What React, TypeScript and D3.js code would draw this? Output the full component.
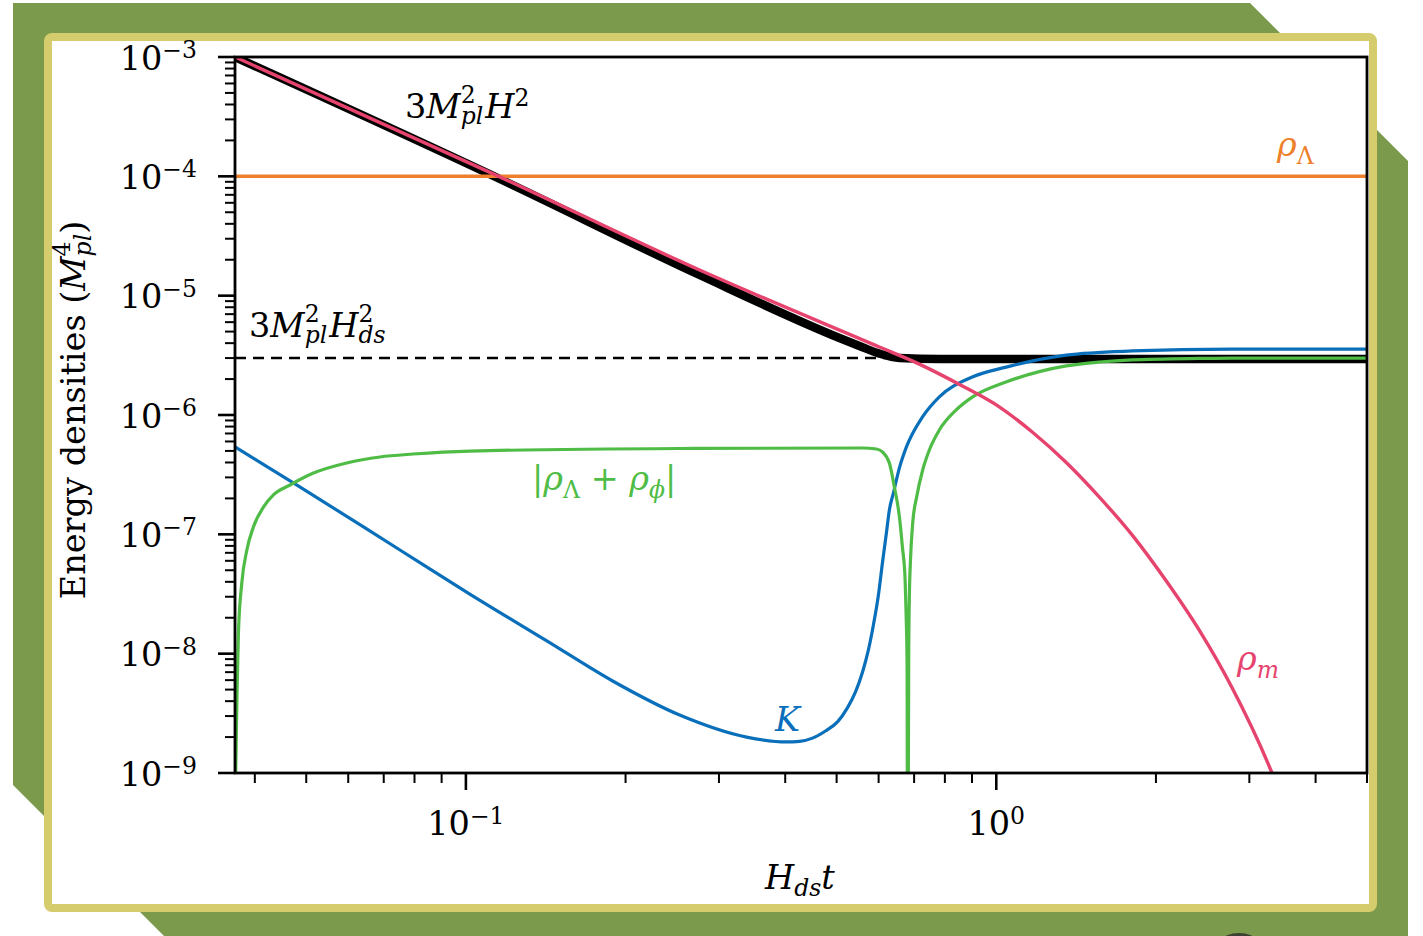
import React from "react";
import * as d3 from "d3";

const W = 1423;
const H = 936;

// axis ranges (H_ds t, energy density in M_pl^4)
const tDomain: [number, number] = [0.0367, 5];
const vDomain: [number, number] = [1e-9, 1e-3];
const yTickExps = [-3, -4, -5, -6, -7, -8, -9];
const xTickExps = [-1, 0];

// constant levels
const rhoLambda = 1e-4;
const hubbleDs = 3.0e-6;

// 3 M_pl^2 H^2
const hubble: [number, number][] = [
  [0.0367, 1.0e-3], [0.1159, 9.5e-5], [0.2758, 1.49e-5], [0.5062, 4.42e-6],
  [0.5521, 3.79e-6], [0.602, 3.27e-6], [0.657, 3.0e-6], [0.781, 2.94e-6],
  [1.013, 2.94e-6], [5.0, 2.95e-6],
];

// rho_m
const rhoM: [number, number][] = [
  [0.0367, 1.0e-3], [0.1159, 9.9e-5], [0.2758, 1.64e-5], [0.602, 3.71e-6],
  [0.716, 2.67e-6], [0.863, 1.75e-6], [1.013, 1.17e-6], [1.169, 7.2e-7],
  [1.355, 4.0e-7], [1.563, 2.06e-7], [1.803, 9.9e-8], [2.089, 4.1e-8],
  [2.412, 1.58e-8], [2.782, 5.2e-9], [3.31, 1.0e-9], [3.56, 4.3e-10],
];

// K
const kinetic: [number, number][] = [
  [0.0367, 5.4e-7], [0.0487, 2.49e-7], [0.0751, 7.39e-8], [0.1017, 3.16e-8],
  [0.1421, 1.28e-8], [0.1891, 5.9e-9], [0.2529, 3.06e-9], [0.3382, 2.0e-9],
  [0.4022, 1.82e-9], [0.4256, 1.84e-9], [0.4503, 1.96e-9], [0.4764, 2.25e-9],
  [0.5019, 2.68e-9], [0.524, 3.51e-9], [0.5427, 4.78e-9], [0.5596, 7.03e-9],
  [0.574, 1.075e-8], [0.5866, 1.74e-8], [0.5995, 3.1e-8], [0.61, 5.75e-8],
  [0.6207, 1.03e-7], [0.6287, 1.6e-7], [0.6398, 2.22e-7], [0.6567, 3.6e-7],
  [0.677, 5.4e-7], [0.7254, 9.6e-7], [0.781, 1.42e-6], [0.901, 2.08e-6],
  [1.044, 2.52e-6], [1.355, 3.18e-6], [1.803, 3.44e-6], [2.782, 3.57e-6],
  [5.0, 3.57e-6],
];

// |rho_Lambda + rho_phi|
const rhoSum: [number, number][] = [
  [0.03672, 5e-10], [0.037, 4.09e-9], [0.03725, 1.49e-8], [0.0378, 3.91e-8],
  [0.03864, 7.39e-8], [0.03975, 1.15e-7], [0.04152, 1.69e-7], [0.04336, 2.14e-7],
  [0.04661, 2.59e-7], [0.05159, 3.26e-7], [0.05961, 3.96e-7], [0.06887, 4.45e-7],
  [0.07948, 4.71e-7], [0.1017, 4.99e-7], [0.2529, 5.24e-7], [0.5596, 5.29e-7],
  [0.5943, 5.19e-7], [0.61, 4.9e-7], [0.6287, 3.96e-7], [0.6425, 2.49e-7],
  [0.6567, 1.4e-7], [0.6653, 7.83e-8], [0.6732, 4.14e-8], [0.676, 2.19e-8],
  [0.6789, 8.35e-9], [0.6807, 1e-11], [0.6836, 8.35e-9], [0.6857, 2.98e-8],
  [0.6887, 5.75e-8], [0.6957, 1.24e-7], [0.7078, 2.06e-7], [0.7265, 3.46e-7],
  [0.7478, 5.09e-7], [0.781, 7.49e-7], [0.8396, 1.1e-6], [0.9024, 1.42e-6],
  [1.043, 1.89e-6], [1.205, 2.31e-6], [1.355, 2.58e-6], [1.563, 2.78e-6],
  [1.803, 2.9e-6], [2.412, 2.98e-6], [2.782, 3.0e-6], [5.0, 3.0e-6],
];

const FONT = "'DejaVu Serif', serif";
const FS = 33.5;
const SS = 23.5;
const SUPW = 0.636 * SS;

const C_ORANGE = "#ee7f2d";
const C_PINK = "#e6446e";
const C_BLUE = "#0a6fba";
const C_GREEN = "#4fbc46";

export default function App() {
  const left = 235, right = 1367, top = 57, bottom = 773;

  const x = d3.scaleLog().domain(tDomain).range([left, right]);
  const y = d3.scaleLog().domain(vDomain).range([bottom, top]);

  const line = d3
    .line<[number, number]>()
    .x((d) => x(d[0]))
    .y((d) => y(d[1]))
    .curve(d3.curveMonotoneX);

  const isMajor = (v: number) => Math.abs(Math.log10(v) - Math.round(Math.log10(v))) < 1e-6;
  const xTicks = x.ticks().filter((v) => v >= tDomain[0] && v <= tDomain[1] * 1.0001);
  const yTicks = y.ticks();

  return (
    <svg
      width={W}
      height={H}
      style={{ position: "absolute", left: 0, top: 0, background: "#fff" }}
      fontFamily={FONT}
    >
      <defs>
        <clipPath id="plot">
          <rect x={left} y={top} width={right - left} height={bottom - top} />
        </clipPath>
      </defs>

      {/* backdrop */}
      <polygon points="13,3 1250,3 1408,161 1408,936 164,936 13,785" fill="#7b9a4b" />
      <circle cx={1239} cy={964} r={31} fill="#3b4232" />
      <rect x={48} y={37} width={1325} height={871} rx={4} fill="#fff" stroke="#d4cc6d" strokeWidth={8} />

      {/* curves */}
      <g clipPath="url(#plot)" fill="none" strokeLinejoin="round">
        <line x1={left} x2={right} y1={y(hubbleDs)} y2={y(hubbleDs)} stroke="#000" strokeWidth={2.6} strokeDasharray="11 7" />
        <path d={line(hubble) || ""} stroke="#000" strokeWidth={8.5} />
        <line x1={left} x2={right} y1={y(rhoLambda)} y2={y(rhoLambda)} stroke={C_ORANGE} strokeWidth={3.5} />
        <path d={line(kinetic) || ""} stroke={C_BLUE} strokeWidth={3.2} />
        <path d={line(rhoSum) || ""} stroke={C_GREEN} strokeWidth={3.2} />
        <path d={line(rhoM) || ""} stroke={C_PINK} strokeWidth={3.4} />
      </g>

      {/* spines */}
      <rect x={left} y={top} width={right - left} height={bottom - top} fill="none" stroke="#000" strokeWidth={2.8} />

      {/* y ticks */}
      {yTicks.map((v, i) => (
        <line
          key={"yt" + i}
          x1={left}
          x2={left - (isMajor(v) ? 17 : 10)}
          y1={y(v)}
          y2={y(v)}
          stroke="#000"
          strokeWidth={isMajor(v) ? 2.6 : 2}
        />
      ))}
      {yTickExps.map((e) => (
        <text key={"yl" + e} x={197} y={y(Math.pow(10, e)) + 12.5} textAnchor="end" fontSize={FS}>
          10<tspan dy={-11.5} fontSize={SS}>{"\u2212" + Math.abs(e)}</tspan>
        </text>
      ))}

      {/* x ticks */}
      {xTicks.map((v, i) => (
        <line
          key={"xt" + i}
          x1={x(v)}
          x2={x(v)}
          y1={bottom}
          y2={bottom + (isMajor(v) ? 17 : 10)}
          stroke="#000"
          strokeWidth={isMajor(v) ? 2.6 : 2}
        />
      ))}
      {xTickExps.map((e) => (
        <text key={"xl" + e} x={x(Math.pow(10, e))} y={835} textAnchor="middle" fontSize={FS}>
          10<tspan dy={-11.5} fontSize={SS}>{e < 0 ? "\u2212" + Math.abs(e) : String(e)}</tspan>
        </text>
      ))}

      {/* axis labels */}
      <text x={765} y={889} fontSize={FS} fontStyle="italic">
        H<tspan dy={7} fontSize={SS}>ds</tspan>
        <tspan dy={-7}>t</tspan>
      </text>
      <text transform="translate(85,410) rotate(-90)" textAnchor="middle" fontSize={FS}>
        Energy densities (<tspan fontStyle="italic">M</tspan>
        <tspan dy={-15} fontSize={SS}>4</tspan>
        <tspan dx={-SUPW} dy={21} fontSize={SS} fontStyle="italic">pl</tspan>
        <tspan dy={-6}>)</tspan>
      </text>

      {/* annotations */}
      <text x={405} y={118} fontSize={FS} fill="#000">
        3<tspan fontStyle="italic">M</tspan>
        <tspan dy={-15} fontSize={SS}>2</tspan>
        <tspan dx={-SUPW} dy={21} fontSize={SS} fontStyle="italic">pl</tspan>
        <tspan dx={2} dy={-6} fontStyle="italic">H</tspan>
        <tspan dy={-12} fontSize={SS}>2</tspan>
      </text>
      <text x={249} y={337} fontSize={FS} fill="#000">
        3<tspan fontStyle="italic">M</tspan>
        <tspan dy={-15} fontSize={SS}>2</tspan>
        <tspan dx={-SUPW} dy={21} fontSize={SS} fontStyle="italic">pl</tspan>
        <tspan dx={2} dy={-6} fontStyle="italic">H</tspan>
        <tspan dy={-15} fontSize={SS}>2</tspan>
        <tspan dx={-SUPW} dy={21} fontSize={SS} fontStyle="italic">ds</tspan>
      </text>
      <text x={1277} y={156} fontSize={FS} fill={C_ORANGE}>
        <tspan fontStyle="italic">ρ</tspan>
        <tspan dy={8} fontSize={SS}>Λ</tspan>
      </text>
      <text x={532} y={490} fontSize={FS} fill={C_GREEN}>
        |<tspan fontStyle="italic">ρ</tspan>
        <tspan dy={8} fontSize={SS}>Λ</tspan>
        <tspan dy={-8}>{" + "}</tspan>
        <tspan fontStyle="italic">ρ</tspan>
        <tspan dy={8} fontSize={SS} fontStyle="italic">ϕ</tspan>
        <tspan dy={-8}>|</tspan>
      </text>
      <text x={775} y={731} fontSize={FS} fill={C_BLUE} fontStyle="italic">
        K
      </text>
      <text x={1237} y={670} fontSize={FS} fill={C_PINK}>
        <tspan fontStyle="italic">ρ</tspan>
        <tspan dy={8} fontSize={SS} fontStyle="italic">m</tspan>
      </text>
    </svg>
  );
}
